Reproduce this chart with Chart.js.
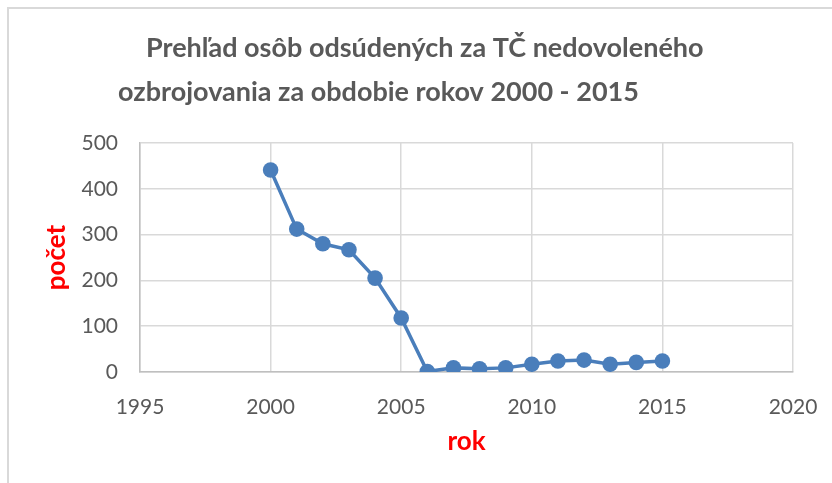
<!DOCTYPE html>
<html>
<head>
<meta charset="utf-8">
<script src="https://cdn.jsdelivr.net/npm/chart.js@4"></script>
<style>
  html, body { margin: 0; padding: 0; background: #fff; overflow: hidden; }
  #wrap { position: relative; width: 832px; height: 483px; overflow: hidden; }
  #frame { position: absolute; left: 7px; top: 7px; width: 900px; height: 600px;
           border-top: 2px solid #d9d9d9; border-left: 2px solid #d9d9d9; }
  canvas { position: absolute; left: 0; top: 0; }
</style>
</head>
<body>
<div id="wrap">
  <div id="frame"></div>
  <canvas id="c" width="880" height="483"></canvas>
</div>
<script>
const titleLines = ['Prehľad osôb odsúdených za TČ nedovoleného', 'ozbrojovania za obdobie rokov 2000 - 2015'];
const years = [2000, 2001, 2002, 2003, 2004, 2005, 2006, 2007, 2008, 2009, 2010, 2011, 2012, 2013, 2014, 2015];
const counts = [441, 312, 280, 267, 205, 118, 1, 9, 7, 9, 17, 24, 26, 17, 21, 24];
const xTitle = 'rok';
const yTitle = 'počet';

const FONT = 'Lato, "Open Sans", sans-serif';

const titlePlugin = {
  id: 'twoLineTitle',
  afterDraw(chart) {
    const ctx = chart.ctx;
    ctx.save();
    ctx.fillStyle = '#595959';
    ctx.font = 'bold 27px ' + FONT;
    ctx.textAlign = 'left';
    ctx.textBaseline = 'alphabetic';
    ctx.fillText(titleLines[0], 146, 57);
    ctx.fillText(titleLines[1], 118, 101);
    ctx.restore();
  }
};

new Chart(document.getElementById('c'), {
  type: 'line',
  data: {
    datasets: [{
      data: years.map((y, i) => ({ x: y, y: counts[i] })),
      borderColor: '#4a7ebb',
      backgroundColor: '#4a7ebb',
      borderWidth: 3.5,
      pointRadius: 7.8,
      pointHoverRadius: 7.8,
      pointBorderWidth: 0,
      tension: 0
    }]
  },
  options: {
    responsive: false,
    animation: false,
    layout: { padding: { left: 30, right: 87, top: 143, bottom: 20 } },
    plugins: { legend: { display: false }, title: { display: false }, tooltip: { enabled: false } },
    scales: {
      x: {
        type: 'linear',
        min: 1995, max: 2020,
        afterFit(s) { s.height = 483 - 20 - 372; },
        ticks: { stepSize: 5, color: '#595959', font: { family: FONT, size: 21 }, padding: 23,
                 callback: v => String(v) },
        grid: { color: '#d9d9d9', lineWidth: 1.5, drawTicks: false },
        border: { color: '#bfbfbf', width: 1.5 },
        title: { display: true, text: xTitle, color: '#ff0000',
                 font: { family: FONT, size: 26, weight: 'bold' }, padding: { top: 0, bottom: 6 } }
      },
      y: {
        min: 0, max: 500,
        afterFit(s) { s.width = 110; },
        ticks: { stepSize: 100, color: '#595959', font: { family: FONT, size: 21 }, padding: 22 },
        grid: { color: '#d9d9d9', lineWidth: 1.5, drawTicks: false },
        border: { color: '#bfbfbf', width: 1.5 },
        title: { display: true, text: yTitle, color: '#ff0000',
                 font: { family: FONT, size: 26, weight: 'bold' }, padding: { top: 11, bottom: 0 } }
      }
    }
  },
  plugins: [titlePlugin]
});
</script>
</body>
</html>
